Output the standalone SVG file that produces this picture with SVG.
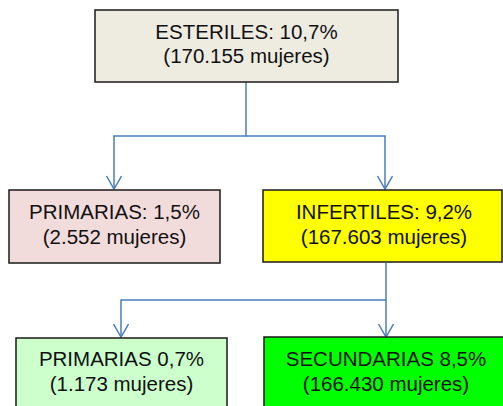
<svg xmlns="http://www.w3.org/2000/svg" width="503" height="406" viewBox="0 0 503 406">
<defs>
<style>
.box{stroke:#1a1a1a;stroke-width:1.5}
.t{font-family:"Liberation Sans",Arial,sans-serif;font-size:20.5px;fill:#111;text-anchor:middle}
.c{fill:none;stroke:#4a7ebb;stroke-width:1.5}
</style>
<marker id="arr" markerWidth="16" markerHeight="18" refX="14" refY="8" orient="auto" markerUnits="userSpaceOnUse" viewBox="0 0 16 18">
<path d="M1,0.5 L14,8 L1,15.5" fill="none" stroke="#4a7ebb" stroke-width="1.5"/>
</marker>
</defs>
<rect width="503" height="406" fill="#fff"/>
<g id="connectors">
<path class="c" d="M246,82 V136 H114 V189" marker-end="url(#arr)"/>
<path class="c" d="M246,136 H385 V189" marker-end="url(#arr)"/>
<path class="c" d="M386,263 V300 H121 V337" marker-end="url(#arr)"/>
<path class="c" d="M386,300 V337" marker-end="url(#arr)"/>
</g>
<g id="esteriles">
<rect class="box" x="95" y="10" width="303" height="72" fill="#eeece1"/>
<text class="t" x="246.5" y="39">ESTERILES: 10,7%</text>
<text class="t" x="246.5" y="63">(170.155 mujeres)</text>
</g>
<g id="primarias1">
<rect class="box" x="9" y="190" width="211" height="73" fill="#f2dcdb"/>
<text class="t" x="114.5" y="219">PRIMARIAS: 1,5%</text>
<text class="t" x="114.5" y="244">(2.552 mujeres)</text>
</g>
<g id="infertiles">
<rect class="box" x="263" y="190" width="239" height="72" fill="#ffff00"/>
<text class="t" x="384" y="219">INFERTILES: 9,2%</text>
<text class="t" x="384" y="244">(167.603 mujeres)</text>
</g>
<g id="primarias2">
<rect class="box" x="16" y="338" width="211" height="80" fill="#ccffcc"/>
<text class="t" x="121.5" y="366">PRIMARIAS 0,7%</text>
<text class="t" x="121.5" y="391">(1.173 mujeres)</text>
</g>
<g id="secundarias">
<rect class="box" x="264" y="337" width="245" height="80" fill="#00ff00"/>
<text class="t" x="386" y="366">SECUNDARIAS 8,5%</text>
<text class="t" x="386" y="391">(166.430 mujeres)</text>
</g>
</svg>
